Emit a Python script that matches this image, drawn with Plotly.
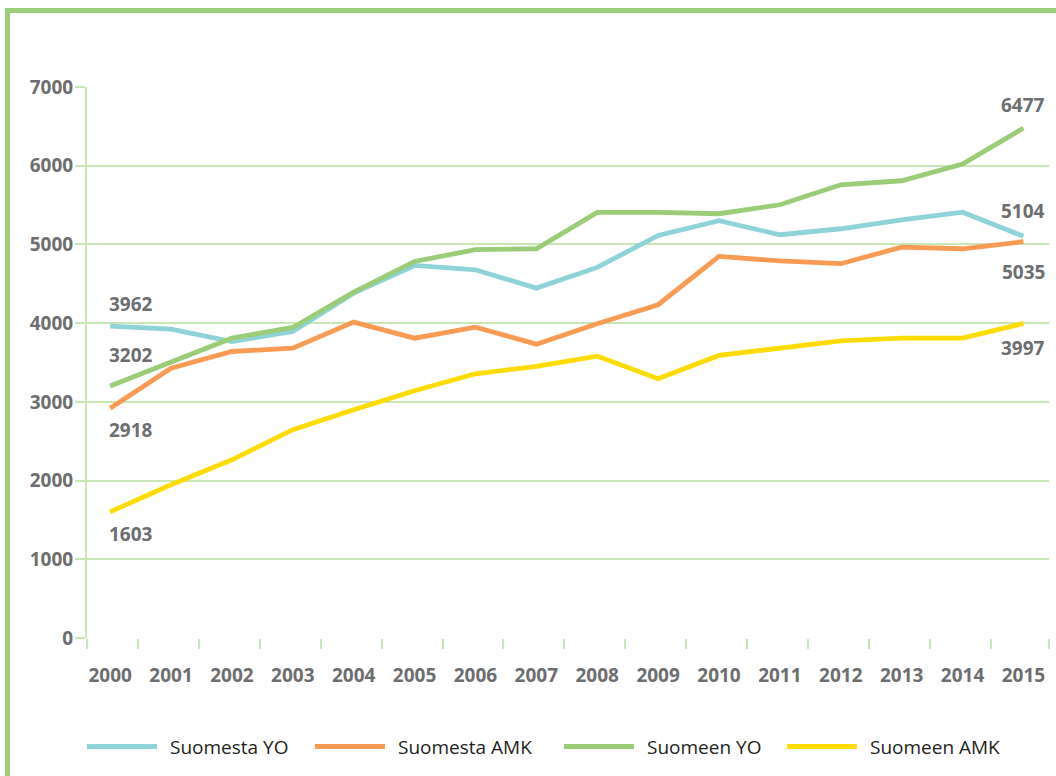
import plotly.graph_objects as go

years = [str(y) for y in range(2000, 2016)]
suomesta_yo = [3962, 3924, 3767, 3894, 4381, 4733, 4678, 4445, 4708, 5114, 5301, 5123, 5199, 5313, 5410, 5104]
suomesta_amk = [2918, 3428, 3640, 3682, 4013, 3809, 3949, 3733, 3992, 4234, 4848, 4790, 4755, 4966, 4945, 5035]
suomeen_yo = [3202, 3504, 3809, 3945, 4394, 4784, 4933, 4945, 5407, 5407, 5390, 5504, 5758, 5809, 6020, 6477]
suomeen_amk = [1603, 1947, 2264, 2646, 2900, 3141, 3357, 3450, 3581, 3294, 3590, 3682, 3776, 3809, 3809, 3997]
series_names = ["Suomesta YO", "Suomesta AMK", "Suomeen YO", "Suomeen AMK"]
y_ticks = [0, 1000, 2000, 3000, 4000, 5000, 6000, 7000]

series = [suomesta_yo, suomesta_amk, suomeen_yo, suomeen_amk]
colors = ["#8ed3d7", "#f99b55", "#9bcd78", "#ffdc00"]
GRID = "#c9e6b5"
FRAME = "#9bcf7b"
GRAY = "#6d6e70"

W, H = 1056, 776
L, R, T, B = 87, 1049, 87, 638
pw, ph = R - L, B - T

def px(x):
    return (x - L) / pw

def py(y):
    return (B - y) / ph

xs = list(range(len(years)))
xr = [-0.38, 15.42]

fig = go.Figure()
for name, vals, col in zip(series_names, series, colors):
    fig.add_trace(go.Scatter(x=xs, y=vals, mode="lines", name=name,
                             line=dict(color=col, width=4.8), showlegend=False))
# dummy trace for tick-mark axis
fig.add_trace(go.Scatter(x=[None], y=[None], xaxis="x2", showlegend=False, hoverinfo="skip"))

boundaries = [xr[0]] + [i + 0.46 for i in range(len(years) - 1)] + [xr[1]]

fig.update_layout(
    width=W, height=H,
    margin=dict(l=L, r=W - R, t=T, b=H - B),
    paper_bgcolor="white", plot_bgcolor="white",
    font=dict(family="Open Sans", size=19, color=GRAY),
    xaxis=dict(range=xr, tickvals=xs, ticktext=years, ticks="", showgrid=False,
               zeroline=False, showline=False,
               tickfont=dict(family="Open Sans", size=19, color=GRAY, weight="bold"),
               ticklabelstandoff=24),
    xaxis2=dict(range=xr, overlaying="x", anchor="y", side="bottom", tickvals=boundaries,
                ticks="outside", ticklen=10, tickcolor=GRID, tickwidth=2,
                showticklabels=False, showgrid=False, zeroline=False, showline=False),
    yaxis=dict(range=[0, 7000], tickvals=y_ticks, ticks="outside", ticklen=10,
               tickcolor=GRID, tickwidth=2, showgrid=True, gridcolor=GRID, gridwidth=2,
               zeroline=False, showline=True, linecolor=GRID, linewidth=2,
               tickfont=dict(family="Open Sans", size=19, color=GRAY, weight="bold"),
               ticklabelstandoff=-2),
)

# frame (left and top)
fig.add_shape(type="line", xref="paper", yref="paper", x0=px(7.5), x1=px(7.5),
              y0=py(8), y1=py(H + 5), line=dict(color=FRAME, width=5))
fig.add_shape(type="line", xref="paper", yref="paper", x0=px(5), x1=px(W + 5),
              y0=py(10.5), y1=py(10.5), line=dict(color=FRAME, width=5))

# data labels at first and last year
label_font = dict(family="Open Sans", size=19, color=GRAY, weight="bold")
first_shift = [22, -22, 31, -22]
last_shift = [25, -30, 23, -25]
for vals, s in zip(series, first_shift):
    fig.add_annotation(x=xs[0], y=vals[0], text=str(vals[0]), showarrow=False,
                       xanchor="left", yanchor="middle", xshift=-3, yshift=s, font=label_font)
for vals, s in zip(series, last_shift):
    fig.add_annotation(x=xs[-1], y=vals[-1], text=str(vals[-1]), showarrow=False,
                       xanchor="right", yanchor="middle", xshift=24, yshift=s, font=label_font)

# manual legend
leg_y = py(746.5)
line_x = [87, 315, 564, 787]
for name, col, lx in zip(series_names, colors, line_x):
    fig.add_shape(type="line", xref="paper", yref="paper", x0=px(lx), x1=px(lx + 70),
                  y0=leg_y, y1=leg_y, line=dict(color=col, width=5))
    fig.add_annotation(xref="paper", yref="paper", x=px(lx + 81), y=leg_y, text=name,
                       showarrow=False, xanchor="left", yanchor="middle",
                       font=dict(family="Open Sans", size=19, color="#231f20"))

fig.write_html("out.html", config={"displayModeBar": False},
               post_script="document.body.style.margin='0';document.body.style.overflow='hidden';")
